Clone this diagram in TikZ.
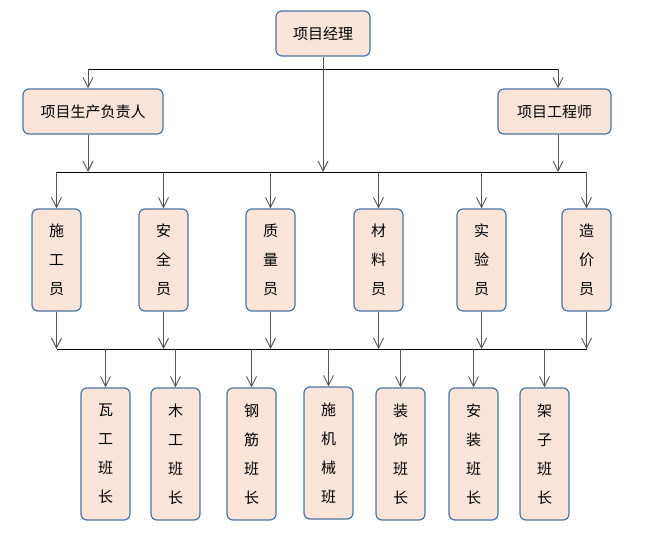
\documentclass[tikz,border=0pt]{standalone}
\usepackage{fontspec}
\newfontfamily\cjk{Noto Sans CJK SC}
\usetikzlibrary{arrows.meta}
\definecolor{pele}{HTML}{FAE5D8}
\definecolor{borda}{HTML}{4A74A6}
\definecolor{cinza}{HTML}{555555}
\begin{document}
\begin{tikzpicture}[x=1pt, y=-1pt,
            cargo/.style={shape=rectangle, rounded corners=6pt, draw=borda, line width=1.2pt, fill=pele, inner sep=0pt, font=\cjk\fontsize{15}{29}\selectfont, align=center},
            chefe/.style={cargo, minimum height=45pt},
            equipe/.style={cargo, minimum width=49pt, minimum height=102pt},
            turma/.style={cargo, minimum width=49pt, minimum height=132pt},
            barra/.style={line width=0.8pt, black},
            seta/.style={line width=0.9pt, cinza, -{Straight Barb[length=10pt,width=10pt]}},
        ]
        \useasboundingbox (0, 0) rectangle (648, 538);

        \node[chefe, minimum width=94pt] (pm) at (323, 33.5) {项目经理};
        \node[chefe, minimum width=140pt] (scfz) at (93, 111.5) {项目生产负责人};
        \node[chefe, minimum width=113pt] (gcs) at (554.5, 111.5) {项目工程师};

        \node[equipe] (sgy) at (56.5, 260) {施\\工\\员};
        \node[equipe] (aqy) at (163.5, 260) {安\\全\\员};
        \node[equipe] (zly) at (270.5, 260) {质\\量\\员};
        \node[equipe] (cly) at (378.5, 260) {材\\料\\员};
        \node[equipe] (syy) at (481.5, 260) {实\\验\\员};
        \node[equipe] (zjy) at (586.5, 260) {造\\价\\员};

        \node[turma] (wg) at (105.5, 454) {瓦\\工\\班\\长};
        \node[turma] (mg) at (175.5, 454) {木\\工\\班\\长};
        \node[turma] (gj) at (251.5, 454) {钢\\筋\\班\\长};
        \node[turma] (jx) at (328.5, 453) {施\\机\\械\\班};
        \node[turma] (zs) at (400.5, 454) {装\\饰\\班\\长};
        \node[turma] (az) at (473.5, 454) {安\\装\\班\\长};
        \node[turma] (jz) at (544.5, 454) {架\\子\\班\\长};

        \coordinate (b1a) at (88, 69);
        \coordinate (b1b) at (558, 69);
        \coordinate (b2a) at (56.5, 172);
        \coordinate (b2b) at (88, 172);
        \coordinate (b2c) at (323, 172);
        \coordinate (b2d) at (558, 172);
        \coordinate (b2e) at (586.5, 172);
        \coordinate (b3a) at (56.5, 349);
        \coordinate (b3b) at (586.5, 349);

        \draw[barra] (b1a) -- (b1b);
        \draw[barra] (b2a) -- (b2e);
        \draw[barra] (b3a) -- (b3b);

        \draw[seta] (b1a) -- (scfz.north -| b1a);
        \draw[seta] (b1b) -- (gcs.north -| b1b);
        \draw[seta] (pm) -- (b2c);
        \draw[seta] (scfz.south -| b2b) -- (b2b);
        \draw[seta] (gcs.south -| b2d) -- (b2d);

        \foreach \n in {sgy, aqy, zly, cly, syy, zjy} {
            \draw[seta] (\n.north |- b2a) -- (\n.north);
            \draw[seta] (\n.south) -- (\n.south |- b3a);
        }
        \foreach \n in {wg, mg, gj, jx, zs, az, jz} {
            \draw[seta] (\n.north |- b3a) -- (\n.north);
        }

    \end{tikzpicture}
\end{document}
